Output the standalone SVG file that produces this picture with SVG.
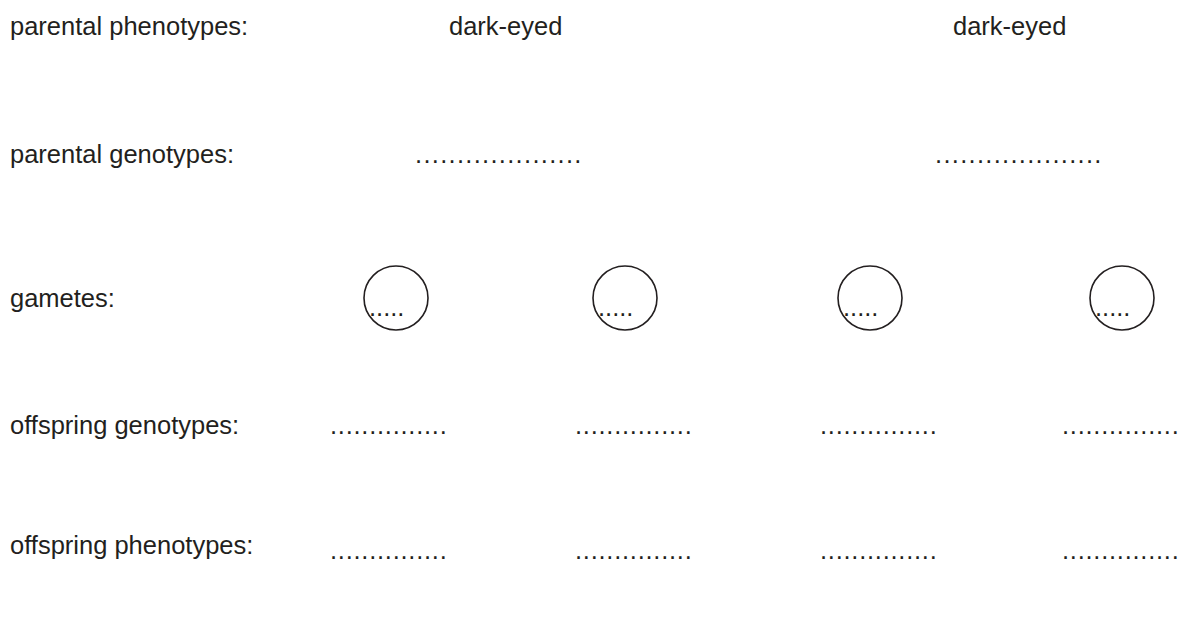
<svg xmlns="http://www.w3.org/2000/svg" width="1187" height="619" viewBox="0 0 1187 619">
<style>
text{font-family:"Liberation Sans",Arial,sans-serif;font-size:25.5px;fill:#231f20}
.g circle{fill:none;stroke:#231f20;stroke-width:1.6}
.d20{letter-spacing:1.3px}
.d15{letter-spacing:0.75px}
</style>
<rect width="1187" height="619" fill="#fff"/>
<g id="labels">
<text x="10" y="35">parental phenotypes:</text>
<text x="10" y="163">parental genotypes:</text>
<text x="10" y="307">gametes:</text>
<text x="10" y="434">offspring genotypes:</text>
<text x="10" y="554">offspring phenotypes:</text>
</g>
<g id="phenotypes">
<text x="449" y="35">dark-eyed</text>
<text x="953" y="35">dark-eyed</text>
</g>
<g id="genotypes">
<text class="d20" x="415" y="163">....................</text>
<text class="d20" x="935" y="163">....................</text>
</g>
<g id="gametes" class="g">
<g id="gamete1"><circle cx="396" cy="298" r="32"/><text x="369" y="316">.....</text></g>
<g id="gamete2"><circle cx="625" cy="298" r="32"/><text x="598" y="316">.....</text></g>
<g id="gamete3"><circle cx="870" cy="298" r="32"/><text x="843" y="316">.....</text></g>
<g id="gamete4"><circle cx="1122" cy="298" r="32"/><text x="1095" y="316">.....</text></g>
</g>
<g id="offspring-genotypes">
<text class="d15" x="330" y="434">...............</text>
<text class="d15" x="575" y="434">...............</text>
<text class="d15" x="820" y="434">...............</text>
<text class="d15" x="1062" y="434">...............</text>
</g>
<g id="offspring-phenotypes">
<text class="d15" x="330" y="559">...............</text>
<text class="d15" x="575" y="559">...............</text>
<text class="d15" x="820" y="559">...............</text>
<text class="d15" x="1062" y="559">...............</text>
</g>
</svg>
